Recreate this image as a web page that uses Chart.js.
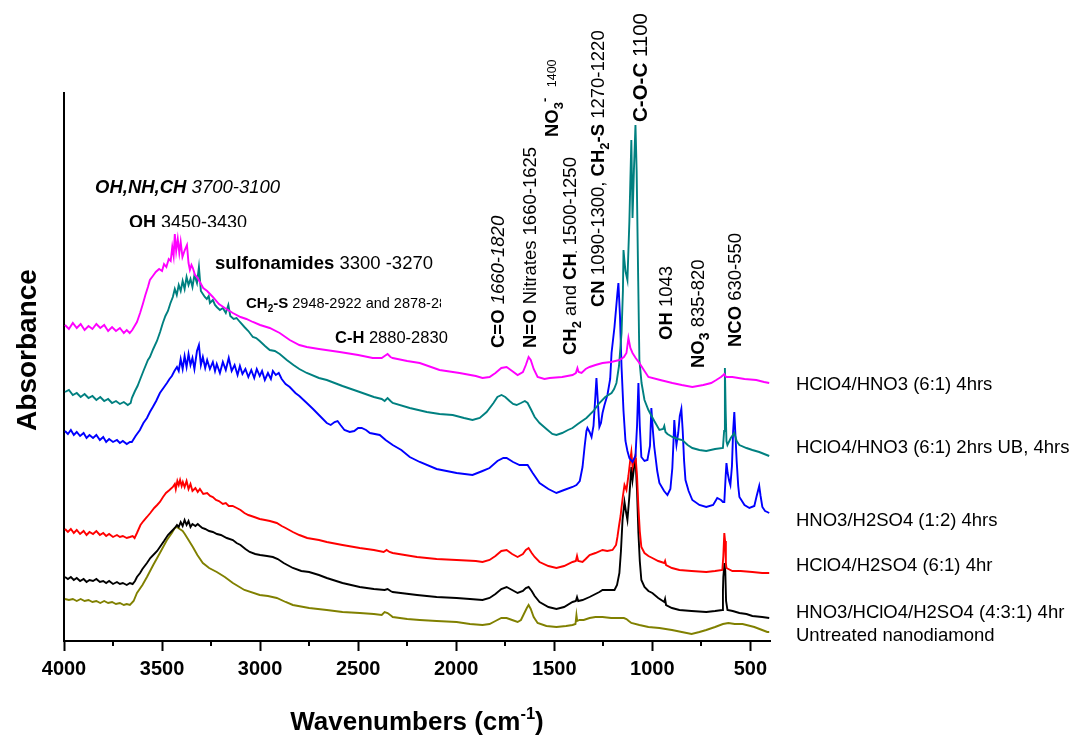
<!DOCTYPE html>
<html><head><meta charset="utf-8">
<script src="https://cdn.jsdelivr.net/npm/chart.js@4.4.1/dist/chart.umd.min.js"></script>
<style>html,body{margin:0;padding:0;background:#fff;}canvas{display:block;}</style>
</head><body>
<canvas id="c" width="1069" height="740"></canvas>
<script>
// ---------- data (wavenumber cm-1, absorbance in arbitrary units) ----------
const xTicks = [4000,3500,3000,2500,2000,1500,1000,500];
const minorTicks = [3750,3250,2750,2250,1750,1250,750];
const seriesNames = [
  'HClO4/HNO3 (6:1) 4hrs',
  'HClO4/HNO3 (6:1) 2hrs UB, 4hrs',
  'HNO3/H2SO4 (1:2) 4hrs',
  'HClO4/H2SO4 (6:1) 4hr',
  'HNO3/HClO4/H2SO4 (4:3:1) 4hr',
  'Untreated nanodiamond'
];
const magenta = [[3995,316],[3975,312],[3955,318],[3935,313],[3915,317],[3895,311],[3875,315],[3855,312],[3835,317],[3815,313],[3795,316],[3775,310],[3755,314],[3735,310],[3715,313],[3695,308],[3680,311],[3665,308],[3652,311],[3640,315],[3628,319],[3612,328],[3598,337],[3585,346],[3572,354],[3562,361],[3547,365],[3532,369],[3515,372],[3500,370],[3490,377],[3478,374],[3466,382],[3456,380],[3448,394],[3441,385],[3435,407],[3428,390],[3420,402],[3412,388],[3405,399],[3396,384],[3384,391],[3373,396],[3365,378],[3358,371],[3350,376],[3343,373],[3332,366],[3322,364],[3307,359],[3290,353],[3270,350],[3241,344],[3210,337],[3180,333],[3139,328],[3100,324],[3070,322],[3037,319],[3000,316],[2951,313],[2900,308],[2849,301],[2800,296],[2762,294],[2700,292],[2594,289],[2500,286],[2426,283],[2380,283],[2365,285],[2350,287],[2335,284],[2324,283],[2250,280],[2186,278],[2085,271],[1983,268],[1900,265],[1866,263],[1830,264],[1800,268],[1770,273],[1743,274],[1715,270],[1687,266],[1660,269],[1645,276],[1631,284],[1620,281],[1605,272],[1585,264],[1550,262],[1524,263],[1460,264],[1407,266],[1390,268],[1382,273],[1376,269],[1361,268],[1340,272],[1320,274],[1290,276],[1254,278],[1210,279],[1168,281],[1145,284],[1132,288],[1122,303],[1112,293],[1101,288],[1085,283],[1066,278],[1040,270],[1020,264],[960,261],[898,258],[850,256],[796,254],[740,256],[700,258],[674,261],[650,264],[638,266],[633,267],[628,265],[622,264],[592,264],[530,262],[470,261],[430,259],[404,258]];
const teal = [[3995,249],[3975,251],[3955,246],[3935,248],[3915,244],[3895,247],[3875,243],[3855,245],[3835,241],[3815,244],[3795,240],[3775,242],[3755,238],[3735,240],[3715,237],[3695,239],[3675,236],[3660,238],[3654,243],[3638,250],[3625,255],[3613,261],[3595,270],[3572,281],[3562,284],[3545,292],[3526,300],[3510,309],[3496,318],[3483,325],[3470,330],[3457,338],[3445,344],[3435,352],[3425,346],[3415,356],[3405,350],[3395,360],[3385,352],[3375,364],[3365,356],[3355,362],[3345,354],[3335,366],[3322,358],[3312,374],[3302,350],[3292,347],[3282,344],[3272,342],[3262,345],[3256,338],[3241,341],[3230,336],[3221,334],[3205,331],[3190,333],[3175,328],[3162,336],[3152,325],[3135,322],[3120,323],[3103,319],[3080,314],[3060,310],[3037,304],[3020,303],[3002,300],[2975,295],[2951,291],[2925,290],[2900,287],[2864,281],[2830,276],[2800,272],[2762,268],[2700,263],[2660,261],[2580,255],[2492,249],[2420,244],[2380,242],[2365,240],[2350,243],[2335,240],[2324,238],[2237,233],[2150,229],[2085,227],[2018,226],[1960,223],[1917,221],[1880,223],[1845,229],[1810,238],[1790,244],[1769,246],[1750,244],[1728,240],[1710,237],[1692,236],[1670,238],[1650,240],[1636,238],[1620,232],[1600,224],[1575,218],[1540,212],[1510,207],[1489,206],[1460,208],[1430,211],[1407,213],[1380,217],[1336,223],[1300,230],[1270,238],[1240,244],[1208,248],[1195,252],[1183,258],[1170,275],[1157,308],[1150,350],[1147,391],[1142,380],[1137,370],[1127,361],[1117,420],[1107,501],[1101,423],[1094,470],[1086,516],[1080,470],[1072,360],[1066,281],[1055,258],[1040,241],[1020,231],[990,220],[964,211],[945,212],[939,215],[933,209],[923,207],[898,204],[870,202],[847,201],[820,196],[796,193],[760,191],[725,190],[680,192],[640,193],[634,210],[630,273],[626,230],[622,200],[617,196],[600,203],[582,208],[570,200],[556,196],[520,193],[490,191],[455,189],[404,185]];
const blue = [[3995,210],[3980,207],[3965,211],[3950,206],[3935,209],[3918,205],[3900,208],[3885,203],[3870,206],[3852,203],[3835,206],[3817,201],[3800,204],[3785,199],[3770,202],[3750,199],[3730,201],[3715,198],[3700,200],[3680,197],[3664,199],[3654,199],[3635,205],[3613,211],[3595,218],[3577,223],[3562,229],[3547,234],[3530,240],[3511,248],[3493,253],[3475,258],[3462,262],[3450,265],[3437,270],[3424,274],[3415,270],[3405,282],[3395,272],[3385,285],[3375,274],[3365,287],[3355,276],[3345,283],[3335,272],[3322,290],[3312,296],[3302,276],[3292,284],[3280,273],[3270,281],[3256,272],[3241,279],[3230,270],[3221,277],[3205,268],[3190,279],[3175,271],[3160,283],[3145,270],[3130,276],[3115,266],[3103,275],[3090,267],[3075,272],[3060,264],[3045,271],[3030,263],[3017,272],[3002,265],[2990,270],[2976,261],[2960,268],[2945,262],[2935,270],[2920,266],[2905,268],[2890,262],[2870,257],[2849,254],[2820,248],[2800,245],[2762,238],[2730,232],[2700,226],[2660,218],[2640,216],[2620,219],[2605,220],[2590,216],[2570,211],[2543,209],[2520,210],[2500,213],[2482,213],[2460,211],[2440,208],[2390,206],[2360,201],[2324,196],[2280,191],[2237,184],[2186,179],[2100,172],[1998,168],[1917,166],[1866,170],[1830,173],[1790,180],[1760,183],[1743,183],[1710,179],[1677,176],[1650,176],[1636,176],[1610,168],[1575,158],[1530,152],[1489,148],[1450,151],[1407,154],[1387,156],[1370,160],[1356,174],[1345,195],[1336,210],[1331,213],[1320,209],[1310,204],[1300,215],[1292,240],[1285,263],[1278,240],[1270,214],[1262,218],[1254,228],[1244,236],[1229,246],[1215,262],[1208,288],[1193,314],[1178,348],[1173,358],[1165,325],[1157,274],[1147,230],[1137,200],[1127,190],[1117,183],[1101,179],[1086,185],[1078,215],[1071,258],[1064,215],[1056,184],[1040,180],[1025,181],[1012,195],[1005,233],[997,210],[990,194],[975,170],[964,158],[940,150],[923,146],[908,152],[898,173],[892,200],[888,221],[882,205],[877,196],[868,208],[860,225],[852,232],[845,210],[838,180],[831,161],[815,150],[796,141],[760,136],[725,134],[690,136],[669,143],[650,141],[640,139],[633,139],[626,165],[622,178],[616,168],[608,160],[602,156],[594,175],[588,210],[582,229],[576,205],[570,180],[562,155],[556,144],[530,136],[505,133],[480,135],[468,145],[455,155],[448,145],[439,134],[425,130],[414,129],[404,128]];
const red = [[3995,112],[3980,109],[3965,112],[3950,108],[3935,111],[3918,107],[3900,110],[3885,106],[3870,109],[3852,107],[3835,110],[3817,106],[3800,108],[3785,105],[3770,107],[3750,104],[3730,106],[3715,104],[3700,105],[3680,103],[3664,104],[3650,105],[3640,103],[3628,108],[3610,116],[3595,120],[3577,124],[3560,128],[3540,133],[3525,136],[3511,139],[3495,144],[3480,148],[3462,151],[3445,154],[3435,157],[3430,152],[3422,160],[3415,156],[3408,161],[3400,155],[3394,159],[3385,154],[3375,160],[3365,152],[3355,157],[3345,150],[3330,153],[3318,149],[3307,152],[3290,147],[3270,148],[3255,145],[3241,144],[3225,141],[3210,140],[3190,137],[3175,138],[3160,135],[3140,135],[3119,133],[3100,131],[3080,128],[3060,126],[3030,124],[3002,122],[2975,121],[2950,120],[2915,118],[2890,115],[2870,113],[2833,109],[2800,106],[2760,103],[2700,101],[2660,99],[2580,96],[2492,93],[2420,91],[2370,89],[2355,91],[2340,89],[2324,88],[2200,84],[2100,82],[1998,81],[1900,80],[1866,79],[1830,81],[1800,85],[1770,90],[1743,91],[1715,87],[1687,84],[1660,87],[1645,91],[1631,93],[1615,88],[1600,84],[1575,79],[1530,75],[1489,73],[1450,75],[1407,79],[1390,80],[1384,85],[1378,80],[1356,79],[1340,82],[1320,86],[1290,88],[1254,91],[1230,90],[1203,91],[1185,96],[1178,104],[1170,115],[1162,125],[1157,134],[1150,145],[1142,156],[1132,151],[1122,165],[1112,182],[1107,189],[1101,174],[1094,180],[1086,186],[1078,165],[1071,134],[1064,110],[1056,94],[1040,88],[1020,85],[1000,83],[970,80],[939,78],[935,80],[930,76],[900,73],[862,71],[800,70],[725,69],[680,70],[643,71],[638,85],[633,108],[629,100],[625,78],[622,73],[592,70],[550,70],[490,69],[440,68],[404,68]];
const black = [[3995,64],[3980,62],[3965,64],[3950,61],[3935,63],[3918,60],[3900,62],[3885,59],[3870,61],[3852,60],[3835,62],[3817,59],[3800,60],[3785,58],[3770,60],[3750,57],[3730,59],[3715,57],[3700,58],[3680,56],[3664,58],[3650,57],[3638,60],[3628,64],[3612,68],[3600,72],[3577,78],[3560,83],[3540,87],[3525,90],[3511,94],[3490,100],[3470,106],[3450,110],[3435,113],[3424,116],[3415,114],[3405,119],[3395,115],[3385,121],[3375,116],[3365,120],[3355,114],[3345,117],[3330,115],[3318,117],[3307,115],[3295,113],[3280,112],[3260,110],[3241,109],[3220,107],[3200,106],[3170,103],[3139,101],[3120,98],[3100,96],[3075,92],[3053,89],[3025,87],[3000,86],[2965,85],[2935,84],[2910,82],[2880,78],[2833,73],[2790,70],[2750,69],[2700,66],[2660,63],[2580,58],[2492,54],[2420,52],[2365,51],[2350,52],[2335,50],[2324,49],[2200,46],[2100,44],[1998,43],[1930,42],[1866,41],[1830,43],[1800,47],[1770,52],[1743,54],[1715,51],[1687,48],[1660,50],[1645,53],[1631,54],[1615,50],[1600,45],[1575,39],[1530,34],[1489,32],[1450,34],[1407,39],[1390,40],[1384,44],[1378,40],[1356,41],[1320,44],[1300,46],[1270,49],[1254,51],[1220,51],[1193,51],[1180,56],[1168,68],[1160,90],[1152,121],[1142,139],[1135,130],[1127,121],[1117,145],[1107,174],[1101,161],[1094,172],[1086,183],[1078,150],[1071,108],[1064,80],[1056,61],[1040,54],[1020,50],[1000,48],[970,43],[939,39],[935,42],[930,36],[900,33],[862,31],[800,30],[725,29],[680,30],[643,31],[640,50],[638,64],[632,78],[628,70],[624,40],[617,31],[590,30],[556,28],[520,27],[490,25],[440,24],[404,23]];
const olive = [[3995,42],[3975,41],[3955,42],[3935,40],[3915,42],[3895,40],[3875,41],[3855,39],[3835,40],[3815,38],[3795,40],[3775,38],[3755,39],[3735,37],[3715,38],[3695,36],[3680,37],[3664,36],[3645,40],[3628,48],[3600,56],[3577,64],[3545,76],[3511,88],[3475,101],[3450,108],[3435,113],[3424,114],[3410,112],[3395,110],[3384,107],[3365,101],[3343,94],[3320,86],[3292,78],[3260,73],[3221,69],[3180,64],[3139,58],[3080,51],[3002,46],[2960,45],[2915,43],[2870,39],[2833,36],[2750,33],[2660,31],[2580,29],[2492,28],[2420,27],[2380,26],[2365,29],[2350,28],[2330,25],[2324,24],[2250,22],[2186,21],[2100,20],[1998,19],[1930,17],[1866,16],[1830,17],[1800,20],[1770,23],[1743,23],[1715,21],[1687,19],[1670,21],[1655,27],[1640,33],[1631,36],[1620,32],[1605,24],[1585,18],[1540,15],[1489,14],[1440,15],[1407,16],[1392,17],[1387,26],[1383,20],[1371,21],[1350,21],[1320,23],[1290,24],[1254,24],[1210,23],[1168,23],[1145,23],[1132,22],[1120,20],[1107,18],[1066,16],[1020,14],[964,13],[900,11],[850,9],[800,7],[760,9],[725,11],[680,14],[640,17],[612,18],[580,17],[540,17],[520,16],[480,14],[440,11],[414,9],[404,9]];

const FONT = '"Liberation Sans", Arial, Helvetica, sans-serif';
const seriesData = [magenta, teal, blue, red, black, olive];
const seriesColors = ['#ff00ff', '#008080', '#0000ff', '#ff0000', '#000000', '#808000'];
const legendY = [385, 448, 521, 566, 613, 636];

function toPts(arr){ return arr.map(p => ({x:p[0], y:p[1]})); }
function fontOf(s){ return (s.i?'italic ':'') + (s.b?'bold ':'') + s.s + 'px ' + FONT; }
function richWidth(ctx, segs){
  let w = 0;
  for (const s of segs){ ctx.font = fontOf(s); w += ctx.measureText(s.t).width; }
  return w;
}
function rich(ctx, segs, x, y, rot, align){
  ctx.save();
  ctx.translate(x, y);
  if (rot) ctx.rotate(-Math.PI/2);
  ctx.textBaseline = 'alphabetic';
  ctx.textAlign = 'left';
  ctx.fillStyle = '#000';
  let cx = align === 'center' ? -richWidth(ctx, segs)/2 : 0;
  for (const s of segs){
    ctx.font = fontOf(s);
    ctx.fillText(s.t, cx, s.dy || 0);
    cx += ctx.measureText(s.t).width;
  }
  ctx.restore();
}
const B = (t,s,dy) => ({t, b:true, s, dy});
const R = (t,s,dy) => ({t, s, dy});
const I = (t,s) => ({t, i:true, s});
const BI = (t,s) => ({t, b:true, i:true, s});

const hLabels = [
  {segs:[BI('OH,NH,CH',18.5), I(' 3700-3100',18.5)], x:95, y:186},
  {segs:[B('OH',18), R(' 3450-3430',18)], x:129, y:222, clipBottom:227},
  {segs:[B('sulfonamides',18.5), R(' 3300 -3270',18.5)], x:215, y:262},
  {segs:[B('CH',15), B('2',10,4), B('-S',15), R(' 2948-2922 and 2878-2850',14.5)], x:246, y:303, clipRight:441},
  {segs:[B('C-H',16.5), R(' 2880-2830',16.5)], x:335, y:337}
];
const vLabels = [
  {segs:[B('C=O ',18.5), I('1660-1820',18.5)], x:497, y:348, s:18.5},
  {segs:[B('N=O ',18.5), R('Nitrates 1660-1625',18.5)], x:529, y:348, s:18.5},
  {segs:[B('NO',18.5), B('3',13,5), B('-',13,-9), R('   1400',12.5,-2)], x:551, y:137, s:18.5},
  {segs:[B('CH',18.5), B('2',13,5), R(' and ',18.5), B('CH',18.5), B('\u2219',9,3), R(' 1500-1250',18.5)], x:569, y:355, s:18.5},
  {segs:[B('CN ',18.5), R('1090-1300, ',18.5), B('CH',18.5), B('2',13,5), B('-S ',18.5), R('1270-1220',18.5)], x:597, y:307, s:18.5},
  {segs:[B('C-O-C ',20.5), R('1100',20.5)], x:640, y:122, s:20.5},
  {segs:[B('OH ',18.5), R('1043',18.5)], x:665, y:340, s:18.5},
  {segs:[B('NO',18.5), B('3',14,5), R(' 835-820',18.5)], x:697, y:368, s:18.5},
  {segs:[B('NCO ',18.5), R('630-550',18.5)], x:734, y:347, s:18.5}
];

const annotate = {
  id:'annotate',
  afterDraw(chart){
    const ctx = chart.ctx;
    const xs = chart.scales.x, ca = chart.chartArea;
    ctx.save();
    ctx.strokeStyle = '#000'; ctx.lineWidth = 2;
    for (const v of minorTicks){
      const px = Math.round(xs.getPixelForValue(v));
      ctx.beginPath(); ctx.moveTo(px, ca.bottom); ctx.lineTo(px, ca.bottom + 5); ctx.stroke();
    }
    ctx.restore();
    for (const l of hLabels){
      ctx.save();
      if (l.clipBottom || l.clipRight){
        ctx.beginPath(); ctx.rect(0, 0, l.clipRight || 1069, l.clipBottom || 740); ctx.clip();
      }
      rich(ctx, l.segs, l.x, l.y + 0.36*l.segs[0].s, false);
      ctx.restore();
    }
    for (const l of vLabels){
      rich(ctx, l.segs, l.x + 0.36*l.s, l.y, true);
    }
    ctx.save();
    ctx.fillStyle = '#000'; ctx.textBaseline = 'middle'; ctx.textAlign = 'left';
    ctx.font = '18.5px ' + FONT;
    seriesNames.forEach((n,i) => ctx.fillText(n, 796, legendY[i]));
    ctx.restore();
    rich(ctx, [B('Wavenumbers (cm',26), B('-1',16.5,-11.5), B(')',26)], (ca.left+ca.right)/2, 721 + 0.36*26, false, 'center');
    rich(ctx, [B('Absorbance',28)], 26 + 0.36*28, 350, true, 'center');
  }
};

new Chart(document.getElementById('c'), {
  type:'line',
  data:{
    datasets: seriesData.map((d,i) => ({
      label: seriesNames[i], data: toPts(d), borderColor: seriesColors[i],
      backgroundColor: seriesColors[i], borderWidth: 1.9, pointRadius: 0, tension: 0, fill:false
    }))
  },
  options:{
    responsive:false, animation:false,
    layout:{padding:{left:64, right:299, top:93, bottom:0}},
    plugins:{legend:{display:false}, tooltip:{enabled:false}},
    scales:{
      x:{type:'linear', reverse:true, min:400, max:4000,
        afterBuildTicks: s => { s.ticks = xTicks.map(v => ({value:v})); },
        afterFit: s => { s.height = 99; },
        grid:{display:true, drawOnChartArea:false, drawTicks:true, tickLength:10, tickWidth:2, tickColor:'#000', color:'#000'},
        border:{display:true, color:'#000', width:2},
        ticks:{color:'#000', font:{family:FONT, size:20, weight:'bold'}, padding:6, maxRotation:0, autoSkip:false,
          callback: v => String(v)}
      },
      y:{type:'linear', min:0, max:548,
        afterFit: s => { s.width = 0; },
        ticks:{display:false}, grid:{display:false, drawTicks:false},
        border:{display:true, color:'#000', width:2}
      }
    }
  },
  plugins:[annotate]
});
</script>
</body></html>
